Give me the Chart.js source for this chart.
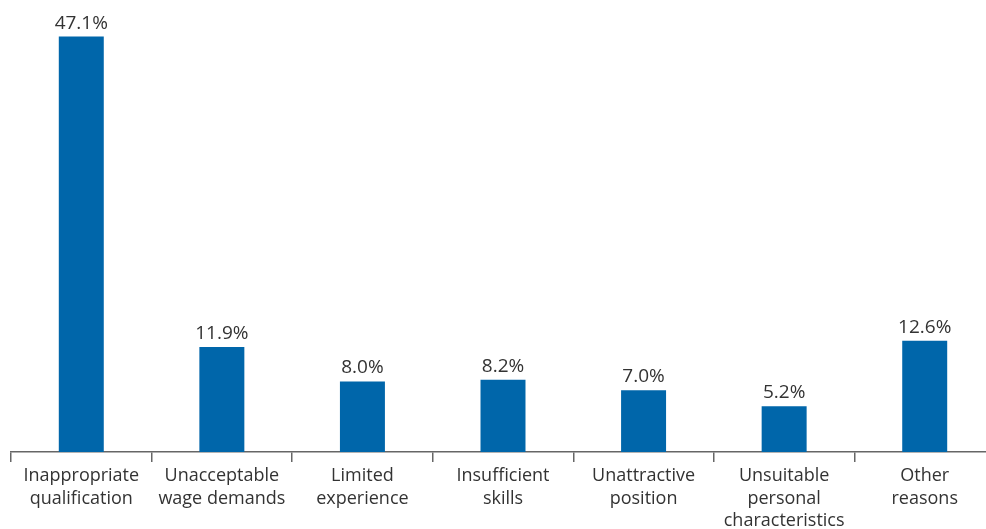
<!DOCTYPE html>
<html>
<head>
<meta charset="utf-8">
<script src="https://cdn.jsdelivr.net/npm/chart.js@4"></script>
<style>
  html, body { margin: 0; padding: 0; background: #fff; overflow: hidden; }
  #wrap { width: 1000px; height: 529px; }
</style>
</head>
<body>
<div id="wrap"><canvas id="reasons"></canvas></div>
<script>
const categories = [
  ['Inappropriate', 'qualification'],
  ['Unacceptable', 'wage demands'],
  ['Limited', 'experience'],
  ['Insufficient', 'skills'],
  ['Unattractive', 'position'],
  ['Unsuitable', 'personal', 'characteristics'],
  ['Other', 'reasons']
];
const shares = [47.1, 11.9, 8.0, 8.2, 7.0, 5.2, 12.6];

const FONT = '"Open Sans", Lato, sans-serif';

// value labels above bars
const barLabels = {
  id: 'barLabels',
  afterDatasetsDraw(chart) {
    const ctx = chart.ctx;
    const meta = chart.getDatasetMeta(0);
    ctx.save();
    ctx.fillStyle = '#333';
    ctx.font = '19px ' + FONT;
    ctx.textAlign = 'center';
    ctx.textBaseline = 'alphabetic';
    meta.data.forEach((bar, i) => {
      ctx.fillText(shares[i].toFixed(1) + '%', bar.x, bar.y - 8);
    });
    ctx.restore();
  }
};

const ctx = document.getElementById('reasons').getContext('2d');
const myChart = new Chart(ctx, {
  type: 'bar',
  data: {
    labels: categories,
    datasets: [{
      data: shares,
      backgroundColor: '#0066aa',
      categoryPercentage: 1,
      barPercentage: 0.32
    }]
  },
  options: {
    responsive: true,
    maintainAspectRatio: false,
    animation: false,
    layout: { padding: { left: 11, right: 5, top: 11, bottom: 0 } },
    plugins: { legend: { display: false }, tooltip: { enabled: false } },
    scales: {
      y: { display: false, min: 0, max: 50 },
      x: {
        afterFit(scale) { scale.height = 77; },
        grid: { drawOnChartArea: false, drawTicks: true, tickLength: 10, color: '#666', lineWidth: 1.5, offset: true },
        border: { display: true, color: '#666', width: 1.5 },
        ticks: {
          color: '#333',
          font: { family: FONT, size: 18, lineHeight: 1.25 },
          autoSkip: false,
          maxRotation: 0,
          padding: 3
        }
      }
    }
  },
  plugins: [barLabels]
});
</script>
</body>
</html>
